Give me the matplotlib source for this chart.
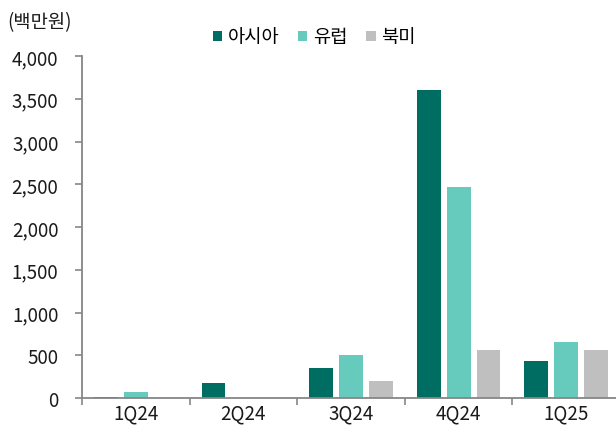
import matplotlib
matplotlib.use("Agg")
import matplotlib.pyplot as plt
import numpy as np
from matplotlib.patches import Patch
from matplotlib.ticker import FuncFormatter, FixedLocator

plt.rcParams['font.family'] = ['Noto Sans CJK KR', 'DejaVu Sans']
plt.rcParams['font.weight'] = 'light'

# 분기별 지역 매출 (백만원)
quarters = ["1Q24", "2Q24", "3Q24", "4Q24", "1Q25"]
asia = [15, 175, 350, 3600, 430]
europe = [70, 0, 505, 2470, 650]
north_america = [0, 0, 195, 560, 558]

series_names = ["아시아", "유럽", "북미"]
colors = ["#006D62", "#66CABD", "#BFBFBF"]
axis_color = "#868686"
text_color = "#1a1a1a"

fig = plt.figure(figsize=(6.16, 4.27), dpi=100)
ax = fig.add_axes([82 / 616, 28 / 427, 538 / 616, 342 / 427])

x = np.arange(len(quarters))
w = 0.222
step = 0.278
for i, (vals, c) in enumerate(zip([asia, europe, north_america], colors)):
    ax.bar(x + (i - 1) * step, vals, width=w, color=c, linewidth=0)

ax.set_xlim(-0.5, len(quarters) - 0.5)
ax.set_ylim(0, 4000)
ax.set_yticks(np.arange(0, 4001, 500))
ax.yaxis.set_major_formatter(FuncFormatter(lambda v, p: f"{int(v):,}"))

# 카테고리 경계에 눈금, 레이블은 가운데
ax.xaxis.set_major_locator(FixedLocator(np.arange(-0.5, len(quarters), 1.0)))
ax.xaxis.set_major_formatter(FuncFormatter(lambda v, p: ""))
ax.xaxis.set_minor_locator(FixedLocator(x))
ax.set_xticklabels(quarters, minor=True)
ax.tick_params(axis="x", which="minor", length=0, labelsize=13.5, pad=3, colors=text_color)
ax.tick_params(axis="x", which="major", length=5, width=1.2, color=axis_color, direction="out")
ax.tick_params(axis="y", length=5, width=1.2, color=axis_color, labelsize=13.5,
               labelcolor=text_color, pad=12)

for side in ["top", "right"]:
    ax.spines[side].set_visible(False)
for side in ["left", "bottom"]:
    ax.spines[side].set_color(axis_color)
    ax.spines[side].set_linewidth(1.3)

fig.text(7 / 616, 1 - 23 / 427, "(백만원)", ha="left", va="center", fontsize=13.5, color=text_color)

handles = [Patch(facecolor=c, edgecolor="none") for c in colors]
fig.legend(handles, series_names, loc="center", bbox_to_anchor=(0.51, 1 - 38 / 427),
           ncol=3, frameon=False, fontsize=13.5, handlelength=0.5, handleheight=0.5,
           handletextpad=0.3, columnspacing=1.0)

fig.savefig("out.png", dpi=100)
